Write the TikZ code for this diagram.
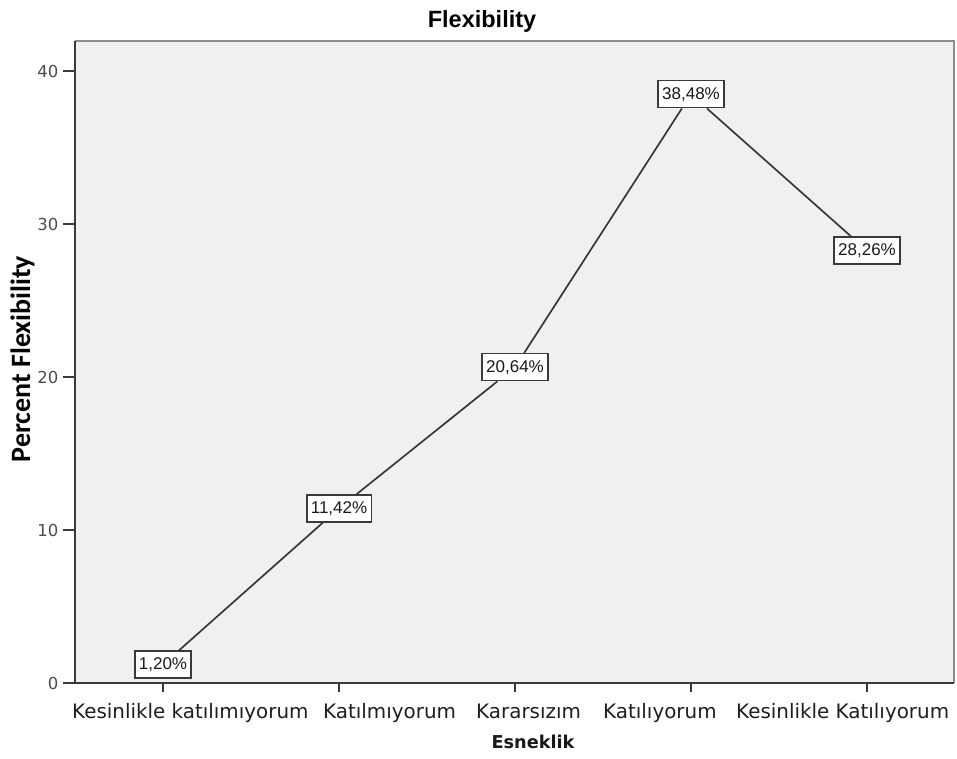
\documentclass[tikz,border=0pt]{standalone}
\usepackage{fontspec}
\setmainfont{DejaVu Sans}
\newfontfamily\lib{Liberation Sans}
\newfontfamily\carl{Carlito}
\definecolor{plotbg}{HTML}{F0F0F0}
\definecolor{axisdark}{HTML}{3A3A3A}
\definecolor{framegray}{HTML}{8C8C8C}
\definecolor{linegray}{HTML}{383838}
\begin{document}
\begin{tikzpicture}[x=1pt,y=-1pt,
  lab/.style={draw=axisdark, line width=1.4pt, fill=white, inner xsep=4pt, inner ysep=0pt, minimum height=27pt, font=\lib\fontsize{17}{17}\selectfont, text=black!90},
  cat/.style={anchor=base west, inner xsep=0pt, font=\fontsize{19.9}{20}\selectfont, text=black!88},
  ytick/.style={anchor=east, font=\fontsize{16.5}{17}\selectfont, text=black!70},
  tickline/.style={axisdark, line width=1.6pt},
  dataline/.style={linegray, line width=1.7pt}]
\useasboundingbox (0,0) rectangle (957,759);
\fill[white] (0,0) rectangle (957,759);
% plot area
\fill[plotbg] (75,41) rectangle (954,683);
\draw[framegray, line width=2.8pt] (75,41) -- (954,41) -- (954,683);
\draw[axisdark, line width=2pt] (954,683) -- (75,683) -- (75,41);
% y ticks
\foreach \v/\yy in {0/683,10/530,20/377,30/224,40/71}{
  \draw[tickline] (63,\yy) -- (75,\yy);
  \node[ytick] (yt\v) at (62,\yy) {\v};
}
% x ticks
\foreach \xx in {163,339,515,691,867}{
  \draw[tickline] (\xx,683) -- (\xx,692);
}
% category labels
\node[cat] (c1) at (72,718) {Kesinlikle katılımıyorum};
\node[cat] (c2) at (323,718) {Katılmıyorum};
\node[cat] (c3) at (476,718) {Kararsızım};
\node[cat] (c4) at (603,718) {Katılıyorum};
\node[cat] (c5) at (736,718) {Kesinlikle Katılıyorum};
% titles
\node[anchor=base, font=\lib\bfseries\fontsize{23.5}{24}\selectfont] (title) at (482,28) {Flexibility};
\node[anchor=base, font=\bfseries\fontsize{17.7}{18}\selectfont, text=black!90] (xtitle) at (533,748) {Esneklik};
\node[anchor=base, rotate=90, font=\carl\bfseries\fontsize{28}{28}\selectfont] (ytitle) at (30,359) {Percent Flexibility};
% data labels
\node[lab] (p1) at (163,664.6) {1,20\%};
\node[lab] (p2) at (339,508.3) {11,42\%};
\node[lab] (p3) at (515,367.2) {20,64\%};
\node[lab] (p4) at (691,94.3) {38,48\%};
\node[lab] (p5) at (867,250.6) {28,26\%};
% line
\draw[dataline] (p1) -- (p2);
\draw[dataline] (p2) -- (p3);
\draw[dataline] (p3) -- (p4);
\draw[dataline] (p4) -- (p5);
\end{tikzpicture}
\end{document}
